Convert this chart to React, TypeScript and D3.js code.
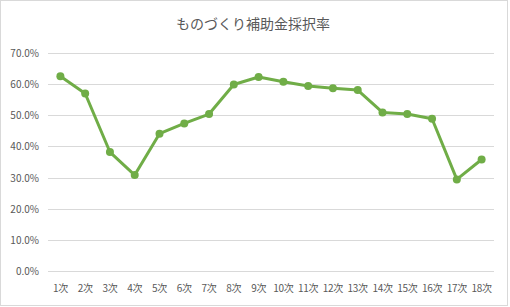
import React, { useRef, useEffect } from 'react';
import * as d3 from 'd3';

const categories = ['1次', '2次', '3次', '4次', '5次', '6次', '7次', '8次', '9次', '10次', '11次', '12次', '13次', '14次', '15次', '16次', '17次', '18次'];
const rates = [62.5, 57.0, 38.2, 30.8, 44.1, 47.4, 50.4, 59.9, 62.3, 60.8, 59.4, 58.7, 58.1, 50.9, 50.4, 48.9, 29.4, 35.8];
const yTicks = [0, 10, 20, 30, 40, 50, 60, 70];
const title = 'ものづくり補助金採択率';

const App = () => {
  const ref = useRef<SVGSVGElement>(null);
  const width = 510;
  const height = 307;

  useEffect(() => {
    const margin = { top: 53, right: 16, bottom: 36, left: 48 };
    const svg = d3.select(ref.current);
    svg.selectAll('*').remove();

    const font = '"Noto Sans CJK JP", "Noto Sans", sans-serif';

    svg.append('rect')
      .attr('x', 0.5).attr('y', 0.5)
      .attr('width', width - 3).attr('height', height - 2)
      .attr('fill', '#fff')
      .attr('stroke', '#d9d9d9');

    svg.append('text')
      .attr('x', width / 2 - 2)
      .attr('y', 29)
      .attr('text-anchor', 'middle')
      .attr('font-family', font)
      .attr('font-size', 14)
      .attr('fill', '#595959')
      .text(title);

    const x = d3.scaleBand()
      .domain(categories)
      .range([margin.left, width - margin.right]);

    const y = d3.scaleLinear()
      .domain([0, 70])
      .range([height - margin.bottom, margin.top]);

    svg.append('g')
      .selectAll('line')
      .data(yTicks)
      .join('line')
        .attr('x1', margin.left)
        .attr('x2', width - margin.right)
        .attr('y1', d => Math.round(y(d)) + 0.5)
        .attr('y2', d => Math.round(y(d)) + 0.5)
        .attr('stroke', '#d9d9d9')
        .attr('stroke-width', 1);

    svg.append('g')
      .selectAll('text')
      .data(yTicks)
      .join('text')
        .attr('x', 39)
        .attr('y', d => y(d) + 4)
        .attr('text-anchor', 'end')
        .attr('font-family', font)
        .attr('font-size', 10)
        .attr('fill', '#595959')
        .text(d => d3.format('.1f')(d) + '%');

    svg.append('g')
      .selectAll('text')
      .data(categories)
      .join('text')
        .attr('x', d => (x(d) as number) + x.bandwidth() / 2)
        .attr('y', 292)
        .attr('text-anchor', 'middle')
        .attr('font-family', font)
        .attr('font-size', 10)
        .attr('letter-spacing', -0.3)
        .attr('fill', '#595959')
        .text(d => d);

    const pts = categories.map((c, i) => [(x(c) as number) + x.bandwidth() / 2, y(rates[i])] as [number, number]);

    svg.append('path')
      .datum(pts)
      .attr('d', d3.line())
      .attr('fill', 'none')
      .attr('stroke', '#70ad47')
      .attr('stroke-width', 3)
      .attr('stroke-linejoin', 'round');

    svg.append('g')
      .selectAll('circle')
      .data(pts)
      .join('circle')
        .attr('cx', d => d[0])
        .attr('cy', d => d[1])
        .attr('r', 4)
        .attr('fill', '#70ad47');
  }, []);

  return (
    <svg ref={ref} width={width} height={height} style={{ position: 'absolute', left: 0, top: 0 }}>
    </svg>
  );
};

export default App;
